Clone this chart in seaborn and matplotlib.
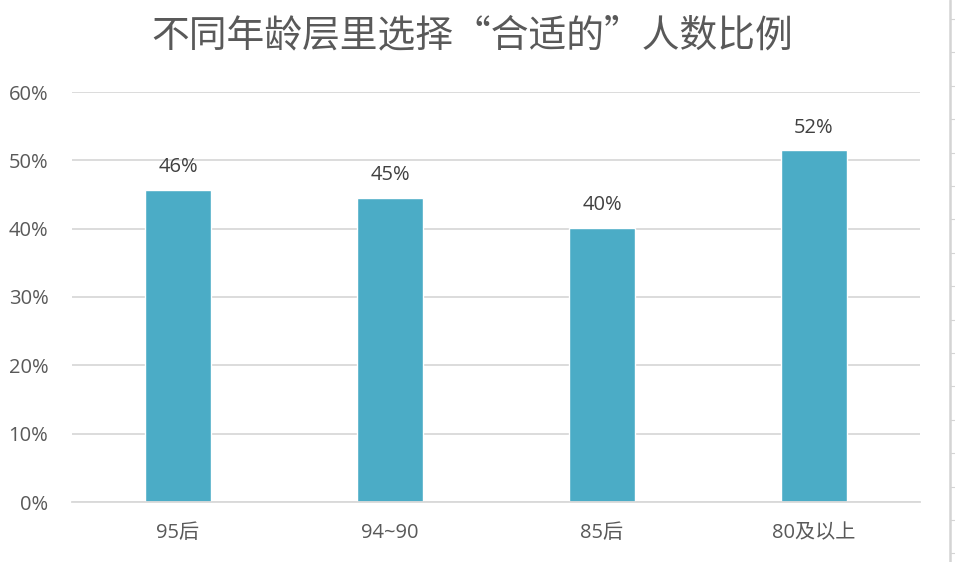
import matplotlib
matplotlib.use("Agg")
import matplotlib.pyplot as plt
import seaborn as sns
import pandas as pd
from matplotlib.lines import Line2D
from matplotlib.ticker import PercentFormatter

categories = ["95后", "94~90", "85后", "80及以上"]
values = [0.457, 0.445, 0.401, 0.515]
labels = ["46%", "45%", "40%", "52%"]
title = "不同年龄层里选择“合适的”人数比例"

sns.set_theme(style="white")
plt.rcParams["font.family"] = ["Open Sans", "Noto Sans CJK SC", "DejaVu Sans"]

df = pd.DataFrame({"cat": categories, "val": values})

fig = plt.figure(figsize=(9.55, 5.62), dpi=100)
ax = fig.add_axes([72/955, 60/562, 848/955, 410/562])

sns.barplot(data=df, x="cat", y="val", color="#4BACC6", saturation=1,
            width=0.315, ax=ax)

ax.set_ylim(0, 0.6)
ax.set_xlim(-0.5, 3.5)
ax.set_yticks([0, 0.1, 0.2, 0.3, 0.4, 0.5, 0.6])
ax.yaxis.set_major_formatter(PercentFormatter(1.0, decimals=0))
ax.grid(axis="y", color="#D9D9D9", linewidth=1.3)
ax.set_axisbelow(True)
for s in ["top", "right", "left"]:
    ax.spines[s].set_visible(False)
ax.spines["bottom"].set_color("#D9D9D9")
ax.spines["bottom"].set_linewidth(1.3)
ax.tick_params(axis="y", length=0, pad=17, labelsize=14.5, labelcolor="#595959")
ax.tick_params(axis="x", length=0, pad=15, labelsize=14.5, labelcolor="#595959")
ax.set_xlabel("")
ax.set_ylabel("")

for cont in ax.containers:
    ax.bar_label(cont, labels=labels, padding=9, fontsize=14.5, color="#404040")

fig.text(472/955, 1 - 36/562, title, ha="center", va="center",
         fontsize=27.2, color="#595959",
         family=["Noto Sans CJK SC", "DejaVu Sans"])

# right-edge frame decoration
fig.add_artist(Line2D([950/955, 950/955], [0, 1], color="#D4D4D4", linewidth=1.8))
y = 19
while y < 562:
    fy = 1 - y/562
    fig.add_artist(Line2D([951/955, 955/955], [fy, fy], color="#D4D4D4", linewidth=0.8))
    y += 33.4

fig.savefig("out.png", dpi=100)
